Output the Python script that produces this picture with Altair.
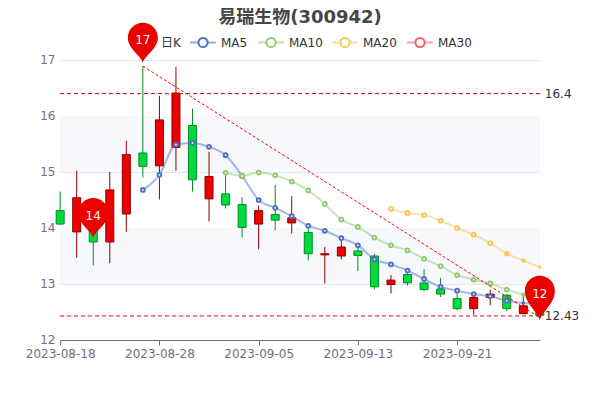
import altair as alt
import pandas as pd

dates = ["2023-08-18","2023-08-21","2023-08-22","2023-08-23","2023-08-24","2023-08-25","2023-08-28","2023-08-29","2023-08-30","2023-08-31",
         "2023-09-01","2023-09-04","2023-09-05","2023-09-06","2023-09-07","2023-09-08","2023-09-11","2023-09-12","2023-09-13","2023-09-14",
         "2023-09-15","2023-09-18","2023-09-19","2023-09-20","2023-09-21","2023-09-22","2023-09-25","2023-09-26","2023-09-27","2023-09-28"]
box_top = [14.31,14.54,14.03,14.68,15.31,15.34,15.93,16.41,15.83,14.92,14.61,14.42,14.31,14.24,14.18,13.92,13.54,13.66,13.59,13.50,13.07,13.17,13.02,12.91,12.74,12.76,12.82,12.80,12.61,12.57]
box_bot = [14.07,13.93,13.75,13.75,14.25,15.10,15.11,15.44,14.86,14.52,14.41,14.01,14.07,14.14,14.09,13.54,13.52,13.50,13.51,12.95,12.99,13.02,12.90,12.82,12.56,12.56,12.76,12.56,12.47,12.44]
highs   = [14.65,15.02,14.05,15.00,15.56,16.89,16.36,16.88,16.13,15.36,15.00,14.55,14.40,14.77,14.57,14.04,13.66,13.82,13.68,13.54,13.16,13.25,13.27,13.11,12.83,12.84,12.90,12.82,12.77,12.60]
lows    = [14.05,13.47,13.33,13.37,13.93,14.90,14.51,15.02,14.65,14.12,14.35,13.83,13.62,13.96,13.90,13.42,13.01,13.44,13.23,12.91,12.83,12.97,12.87,12.77,12.53,12.45,12.62,12.52,12.47,12.43]
rising  = [0,1,0,1,1,0,1,1,0,1,0,0,1,0,1,0,1,1,0,0,1,0,0,0,0,1,1,0,1,0]

ma5 = [None]*5 + [14.68,14.95,15.49,15.52,15.45,15.30,14.93,14.50,14.36,14.21,14.04,13.95,13.82,13.69,13.44,13.35,13.24,13.09,12.95,12.88,12.82,12.78,12.70,12.66,12.64]
ma10 = [None]*10 + [14.99,14.93,14.99,14.94,14.83,14.67,14.43,14.15,14.02,13.83,13.69,13.60,13.45,13.32,13.16,13.08,13.01,12.90,12.81,12.75]
ma20 = [None]*20 + [14.34,14.27,14.23,14.13,14.00,13.88,13.73,13.54,13.42,13.30]

split_lo = [13, 15]
split_hi = [14, 16]
max_close = 16.4
min_close = 12.43
trend_dates = ["2023-08-25", "2023-09-28"]
trend_vals = [16.89, 12.40]
title_text = "易瑞生物(300942)"
legend_names = ["MA5", "MA10", "MA20", "MA30"]
legend_colors = ["#5470C6", "#91CC75", "#FAC858", "#EE6666"]

FONT = "DejaVu Sans"
CJK = "DejaVu Sans, Noto Sans CJK SC, sans-serif"
RED = "#ee0000"

def pin_path(k):
    return f"M0,0 C-0.12,-{k*0.3:.3f} -1,-{k*0.55:.3f} -1,-{k:.3f} A1,1 0 1 1 1,-{k:.3f} C1,-{k*0.55:.3f} 0.12,-{k*0.3:.3f} 0,0 Z"

df = pd.DataFrame({"date": dates, "top": box_top, "bot": box_bot, "high": highs, "low": lows,
                   "dir": ["up" if r else "down" for r in rising]})
xaxis = alt.Axis(values=dates[::6], labelAngle=0, labelColor="#6E7079", labelFontSize=12, labelFont=FONT,
                 domainColor="#6E7079", tickColor="#6E7079", tickSize=5, labelPadding=3,
                 grid=False, labelOverlap=False)
yaxis = alt.Axis(values=[12,13,14,15,16,17], labelColor="#6E7079", labelFontSize=12, labelFont=FONT,
                 domain=False, ticks=False, labelPadding=5, labelOffset=-1, grid=True, gridColor="#E0E6F1", gridWidth=1)
xscale = alt.Scale(type="point", padding=0.01)
yscale = alt.Scale(domain=[12, 17], nice=False, zero=False)

def X():
    return alt.X("date:O", sort=dates, scale=xscale, title=None, axis=xaxis)

def Y(field):
    return alt.Y(f"{field}:Q", scale=yscale, title=None, axis=yaxis)

split = alt.Chart(pd.DataFrame({"v": split_lo, "hi": split_hi})).mark_rect(color="#f6f8fc").encode(
    y=Y("v"), y2="hi:Q")

fill = alt.Scale(domain=["up", "down"], range=["#ee0000", "#00da3c"])
line = alt.Scale(domain=["up", "down"], range=["#8A0000", "#008F28"])
wick = alt.Chart(df).mark_rule(strokeWidth=1).encode(
    x=X(), y=Y("high"), y2="low:Q",
    color=alt.Color("dir:N", scale=line, legend=None))
body = alt.Chart(df).mark_bar(size=8, strokeWidth=1).encode(
    x=X(), y=Y("top"), y2="bot:Q",
    fill=alt.Fill("dir:N", scale=fill, legend=None),
    stroke=alt.Stroke("dir:N", scale=line, legend=None))

def ma_layers(values, color, tail):
    d = pd.DataFrame({"date": dates, "v": values, "i": range(len(dates))}).dropna()
    l = alt.Chart(d).mark_line(color=color, strokeOpacity=0.5, strokeWidth=2, interpolate="monotone").encode(x=X(), y=Y("v"))
    p = alt.Chart(d[~d["i"].isin(tail)]).mark_point(color=color, fill="white", filled=False, fillOpacity=1, opacity=1, strokeWidth=2, size=14).encode(x=X(), y=Y("v"))
    out = l + p
    for i, s in tail.items():
        out = out + alt.Chart(d[d["i"] == i]).mark_point(color=color, filled=True, opacity=1, size=s).encode(x=X(), y=Y("v"))
    return out

def hline(value, color):
    return alt.Chart(pd.DataFrame({"v": [value]})).mark_rule(color=color, strokeWidth=1, strokeDash=[4, 3]).encode(y=Y("v"))

trend = alt.Chart(pd.DataFrame({"date": trend_dates, "v": trend_vals})).mark_line(
    color="#ff0000", strokeWidth=1, strokeDash=[3, 2]).encode(x=X(), y=Y("v"))

def endlabel(value):
    return alt.Chart(pd.DataFrame({"date": [dates[-1]], "v": [value]})).mark_text(
        align="left", baseline="middle", dx=5, font=FONT, fontSize=12, color="#333333").encode(x=X(), y=Y("v"), text=alt.Text("v:Q"))

def pin(date, tip, label, k, dy):
    d = pd.DataFrame({"date": [date], "v": [tip], "t": [label]})
    s = alt.Chart(d).mark_point(shape=pin_path(k), filled=True, color=RED, opacity=1, size=900).encode(x=X(), y=Y("v"))
    t = alt.Chart(d).mark_text(font=FONT, fontSize=12, color="#ffffff", dy=dy, baseline="middle").encode(x=X(), y=Y("v"), text="t:N")
    return s + t

legend_layers = []
icon_x = [203, 271, 345, 420]
LY = -17.5
for name, c, cx in zip(legend_names, legend_colors, icon_x):
    one = pd.DataFrame({"n": [name]})
    legend_layers.append(alt.Chart(one).mark_rule(color=c, strokeOpacity=0.6, strokeWidth=2).encode(
        x=alt.value(cx - 73), x2=alt.value(cx - 47), y=alt.value(LY)))
    legend_layers.append(alt.Chart(one).mark_point(color=c, fill="white", filled=False, fillOpacity=1, opacity=1, strokeWidth=2, size=85).encode(
        x=alt.value(cx - 60), y=alt.value(LY)))
    legend_layers.append(alt.Chart(one).mark_text(align="left", baseline="middle", font=FONT, fontSize=12, color="#333333").encode(
        x=alt.value(cx - 60 + 18), y=alt.value(LY), text="n:N"))
rk = alt.Chart(pd.DataFrame({"n": ["日K"]})).mark_text(align="left", baseline="middle", font=CJK, fontSize=12, color="#333333").encode(
    x=alt.value(101), y=alt.value(LY), text="n:N")

layers = [split, wick, body,
          ma_layers(ma5, "#5470C6", {28: 14}), ma_layers(ma10, "#91CC75", {28: 20}),
          ma_layers(ma20, "#FAC858", {27: 28, 28: 20, 29: 12}),
          hline(max_close, "#cc0000"), hline(min_close, "#ff0000"), trend,
          endlabel(max_close), endlabel(min_close), rk] + legend_layers + [
          pin(dates[5], 16.95, "17", 1.67, -22.6), pin(dates[2], 13.82, "14", 1.67, -22), pin(dates[-1], 12.35, "12", 1.98, -26.7)]

chart = alt.layer(*layers).properties(
    width=480, height=280,
    title=alt.TitleParams(title_text, anchor="middle", font=CJK, fontSize=18, fontWeight="bold", color="#464646", offset=0, dy=4),
    autosize=alt.AutoSizeParams(type="none"),
    padding={"left": 52, "top": 52, "right": 52, "bottom": 52},
).configure_view(stroke=None)

chart.save("out.html", embed_options={"renderer": "svg", "actions": False})
